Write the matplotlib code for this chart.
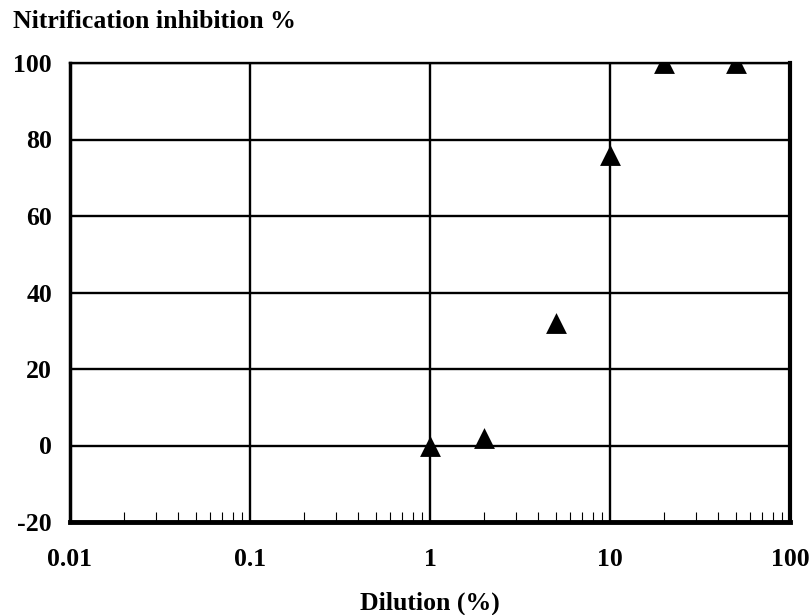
import matplotlib.pyplot as plt
from matplotlib.ticker import LogLocator, NullFormatter, FixedLocator

# Nitrification inhibition versus dilution
dilution = [1, 2, 5, 10, 20, 50]
inhibition = [0, 2, 32, 76, 100, 100]

x_ticks = [0.01, 0.1, 1, 10, 100]
x_labels = ['0.01', '0.1', '1', '10', '100']
y_ticks = [-20, 0, 20, 40, 60, 80, 100]

plt.rcParams['font.family'] = ['Liberation Serif', 'DejaVu Serif']
plt.rcParams['font.weight'] = 'bold'
plt.rcParams['axes.unicode_minus'] = False

fig = plt.figure(figsize=(8.11, 6.15), dpi=100)
ax = fig.add_axes([70 / 811, 1 - 522 / 615, 720 / 811, 459 / 615])

# scatter clips to the axes box, so the points at 100 are cut in half
ax.scatter(dilution, inhibition, marker='^', s=15 ** 2, color='black',
           linewidths=0, zorder=3)

ax.set_xscale('log')
ax.set_xlim(0.01, 100)
ax.set_ylim(-20, 100)

ax.xaxis.set_major_locator(FixedLocator(x_ticks))
ax.set_xticklabels(x_labels)
ax.xaxis.set_minor_locator(LogLocator(base=10, subs=range(2, 10), numticks=20))
ax.xaxis.set_minor_formatter(NullFormatter())
ax.set_yticks(y_ticks)

ax.grid(True, which='major', color='black', linewidth=1.7)
ax.tick_params(axis='both', which='major', length=0, labelsize=18.5)
ax.tick_params(axis='x', which='major', pad=19)
ax.tick_params(axis='y', which='major', pad=13)
ax.tick_params(axis='x', which='minor', direction='in', length=7,
               width=0.8, top=False)

for side, lw in [('left', 2.5), ('right', 3), ('bottom', 3.5), ('top', 1.7)]:
    ax.spines[side].set_linewidth(lw)
    ax.spines[side].set_zorder(4)

fig.text(13 / 811, 1 - 22 / 615, 'Nitrification inhibition %',
         fontsize=18.5, fontweight='bold', va='center', ha='left')
fig.text(430 / 811, 1 - 603 / 615, 'Dilution (%)',
         fontsize=18.5, fontweight='bold', va='center', ha='center')

fig.savefig('out.png', dpi=100)
